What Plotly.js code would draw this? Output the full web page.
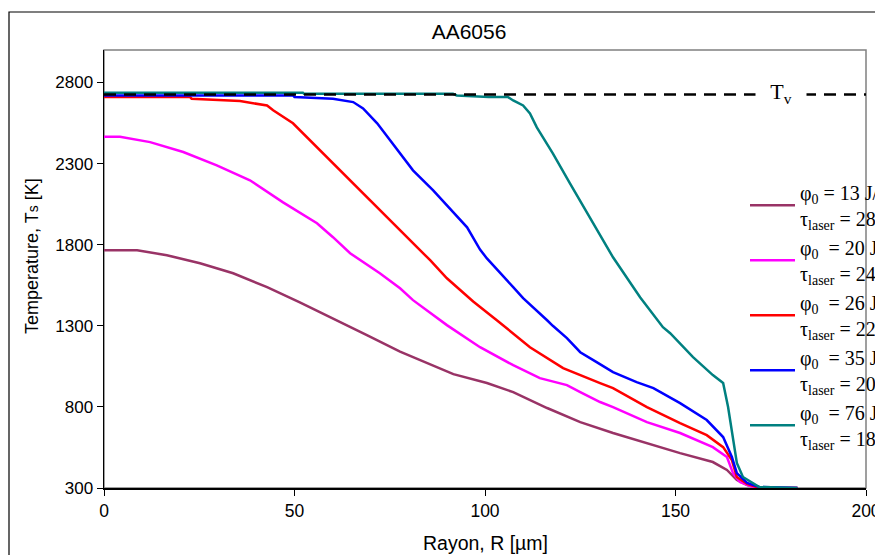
<!DOCTYPE html>
<html>
<head>
<meta charset="utf-8">
<script src="https://cdn.plot.ly/plotly-3.0.1.min.js"></script>
<style>html,body{margin:0;padding:0;background:#fff;}#chart{width:875px;height:555px;}</style>
</head>
<body>
<div id="chart"></div>
<script>
// Series 1: phi0 = 13
const purpleR = [0, 8.7, 16.5, 25.2, 33.9, 42.8, 51.4, 60.1, 69, 77.7, 81, 91.7, 100.5, 107.4, 116.3, 125, 133.6, 142.5, 151.2, 159.8, 163.5, 166.1, 168.8, 172, 182];
const purpleT = [1765, 1765, 1735, 1685, 1624, 1538, 1445, 1347, 1242, 1140, 1107, 1002, 947, 891, 793, 706, 639, 577, 515, 460, 411, 349, 318, 300, 300];
// Series 2: phi0 = 20
const magentaR = [0, 4.2, 12.1, 20.8, 29.6, 38.3, 47, 55.9, 60.1, 64.6, 72.4, 77.7, 81.1, 90, 98.7, 107.4, 114.4, 121.5, 125, 130.2, 133.6, 142.5, 151.2, 159.8, 163.5, 165.1, 166.9, 169.6, 172, 182];
const magentaT = [2465, 2465, 2432, 2371, 2289, 2197, 2061, 1932, 1846, 1747, 1624, 1531, 1458, 1304, 1168, 1057, 977, 934, 891, 830, 799, 706, 639, 552, 491, 392, 337, 312, 300, 300];
// Series 3: phi0 = 26
const redR = [0, 22.6, 23, 35.7, 42.8, 44.4, 49.6, 54.9, 60.1, 69, 72.4, 77.7, 81.1, 85.6, 90, 96.9, 103.1, 111.8, 120.5, 126.8, 130.2, 133.6, 142.5, 151.2, 158.2, 162.5, 164.8, 166.1, 168.8, 172, 182];
const redT = [2710, 2710, 2700, 2685, 2658, 2628, 2548, 2424, 2301, 2092, 2012, 1889, 1809, 1704, 1593, 1450, 1334, 1168, 1039, 977, 947, 916, 799, 700, 626, 552, 472, 368, 325, 300, 300];
// Series 4: phi0 = 35
const blueR = [0, 49.6, 50, 60.1, 65.4, 68, 71.7, 75.1, 79.5, 81.1, 86.4, 90, 95.3, 98.7, 100.5, 107.4, 110, 116.3, 117.8, 121.5, 125, 129.3, 133.6, 139.8, 144.2, 151.2, 158.2, 162.5, 164.8, 166.1, 168.8, 172, 182];
const blueT = [2720, 2720, 2710, 2700, 2679, 2640, 2548, 2443, 2301, 2258, 2135, 2043, 1907, 1770, 1715, 1538, 1470, 1334, 1300, 1224, 1137, 1076, 1014, 953, 916, 823, 719, 614, 491, 392, 331, 306, 300];
// Series 5: phi0 = 76
const tealR = [0, 52.2, 52.5, 91.6, 92.6, 101, 106, 107.4, 110, 111.8, 113.6, 117.8, 122.3, 126.8, 133.6, 140.7, 146.7, 148.6, 154.6, 159.8, 162.5, 163.8, 165.1, 166.1, 167.7, 170.3, 172, 182];
const tealT = [2737, 2737, 2730, 2730, 2720, 2710, 2710, 2689, 2658, 2609, 2523, 2363, 2178, 1993, 1722, 1476, 1291, 1254, 1107, 996, 947, 799, 596, 454, 368, 331, 306, 300];
// Vaporisation temperature line
const tvR = [0, 200];
const tvT = [2725, 2725];

const seriesNames = [
  "φ<sub>0</sub> = 13 J/cm²<br>τ<sub>laser</sub> = 28 ns",
  "φ<sub>0</sub>  = 20 J/cm²<br>τ<sub>laser</sub> = 24 ns",
  "φ<sub>0</sub>  = 26 J/cm²<br>τ<sub>laser</sub> = 22 ns",
  "φ<sub>0</sub>  = 35 J/cm²<br>τ<sub>laser</sub> = 20 ns",
  "φ<sub>0</sub>  = 76 J/cm²<br>τ<sub>laser</sub> = 18 ns"
];
const xTicks = [0, 50, 100, 150, 200];
const yTicks = [300, 800, 1300, 1800, 2300, 2800];

const colors = ["#993366", "#FF00FF", "#FF0000", "#0000FF", "#008080"];
const xs = [purpleR, magentaR, redR, blueR, tealR];
const ys = [purpleT, magentaT, redT, blueT, tealT];

const traces = xs.map((x, i) => ({
  x: x, y: ys[i], name: seriesNames[i], type: "scatter", mode: "lines",
  line: {color: colors[i], width: 2.5}
}));
traces.push({x: tvR, y: tvT, type: "scatter", mode: "lines", showlegend: false,
  line: {color: "#000000", width: 2.5, dash: "12px,8px"}, hoverinfo: "skip"});

const sans = "Liberation Sans, Arial, sans-serif";
const serif = "Liberation Serif, Times New Roman, serif";

const layout = {
  width: 875, height: 555,
  margin: {l: 104, r: 9, t: 50, b: 67, autoexpand: false},
  paper_bgcolor: "#ffffff", plot_bgcolor: "#ffffff",
  title: {text: "AA6056", font: {family: sans, size: 21, color: "#000"}, x: 469/875, xanchor: "center", xref: "container", y: 1 - 32/555, yanchor: "middle", yref: "container"},
  xaxis: {range: [0, 200], tickvals: xTicks, ticktext: xTicks.map(String), showgrid: false, zeroline: false,
    showline: true, linecolor: "#000", linewidth: 1.5, ticks: "outside", ticklen: 6, tickcolor: "#000",
    ticklabeloverflow: "allow",
    tickfont: {family: sans, size: 17.5, color: "#000"}},
  yaxis: {range: [300, 3000], tickvals: yTicks, ticktext: yTicks.map(String), showgrid: false, zeroline: false,
    showline: true, linecolor: "#000", linewidth: 1.5, ticks: "outside", ticklen: 6, tickcolor: "#000",
    tickfont: {family: sans, size: 17, color: "#000"}},
  showlegend: true,
  legend: {x: (745-104)/762, xanchor: "left", y: 0.72, yanchor: "top", bgcolor: "rgba(0,0,0,0)", borderwidth: 0,
    font: {family: serif, size: 20, color: "#000"}, tracegroupgap: 0, itemwidth: 45},
  shapes: [
    {type: "rect", xref: "paper", yref: "paper", x0: 0, x1: 1, y0: 0, y1: 1, line: {color: "#808080", width: 1.5}, layer: "below"},
    {type: "rect", xref: "paper", yref: "paper", x0: (9-104)/762, x1: 1.3, y0: -0.4, y1: 1 + (50-12)/438, line: {color: "#000", width: 1.2}, layer: "below"}
  ],
  annotations: [
    {text: "T<sub>v</sub>", x: (781-104)/3.81, y: 2725, xref: "x", yref: "y", showarrow: false, bgcolor: "#ffffff", borderpad: 2,
      font: {family: serif, size: 22, color: "#000"}, xanchor: "center", yanchor: "middle", yshift: 2,
      width: 46, align: "center"},
    {text: "Rayon, R [µm]", xref: "paper", yref: "paper", x: 0.5, y: -(543-488)/438, showarrow: false,
      xanchor: "center", yanchor: "middle", font: {family: sans, size: 19.5, color: "#000"}},
    {text: "Temperature, T<span style='font-size:14px'>s</span> [K]", xref: "paper", yref: "paper", x: (32-104)/762, y: 1 - (256-50)/438, showarrow: false,
      textangle: -90, xanchor: "center", yanchor: "middle", font: {family: sans, size: 18, color: "#000"}}
  ]
};

Plotly.newPlot("chart", traces, layout, {displayModeBar: false, staticPlot: true});
</script>
</body>
</html>
